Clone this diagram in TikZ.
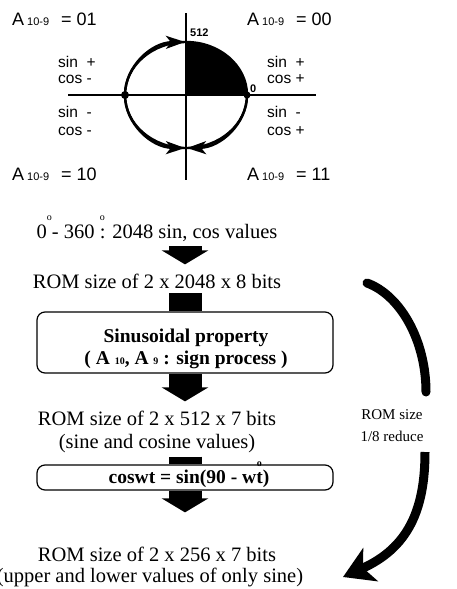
\documentclass[tikz,border=0pt]{standalone}
\usepackage{fontspec}
\setmainfont{Liberation Serif}
\newfontfamily\labelsans{Liberation Sans}
\usetikzlibrary{arrows.meta,positioning}
%% 小さな上付きの丸（度）と小さな添字
\newcommand{\degr}{\raisebox{0.85em}{\fontsize{10}{10}\selectfont o}}
\newcommand{\asub}[1]{{\fontsize{11}{11}\selectfont #1}}
\newcommand{\bsub}[1]{{\fontsize{10}{10}\selectfont #1}}

\begin{document}
\begin{tikzpicture}[x=1pt, y=-1pt,
  addr/.style={font=\labelsans\fontsize{18}{18}\selectfont, anchor=base west, inner sep=0pt},
  quad/.style={font=\labelsans\fontsize{15.5}{17}\selectfont, anchor=base west, inner sep=0pt},
  txtline/.style={font=\fontsize{20.5}{22}\selectfont, anchor=base, inner sep=0pt},
  boldline/.style={font=\bfseries\fontsize{19.5}{22}\selectfont, anchor=base, inner sep=0pt},
  procbox/.style={draw, line width=1.2pt, rounded corners=8pt, minimum width=296pt, inner sep=0pt},
  fatarrow/.style={line width=33pt, -{Triangle[length=14pt,width=46pt]}},
  stub/.style={line width=33pt}]
  \useasboundingbox (0,0) rectangle (456,589);

  %% --- 上：象限と符号 ---
  \coordinate (o) at (186,95);
  \draw[line width=1.6pt] (186,13) -- (186,180);
  \draw[line width=2pt] (68,95) -- (316,95);
  %% 第1象限（塗りつぶし）
  \fill (o) -- ++(61,0) arc[start angle=0, end angle=90, x radius=61pt, y radius=53pt] -- cycle;
  \draw[line width=2.4pt] (o) ellipse [x radius=61pt, y radius=53pt];
  %% 円周上の矢印
  \draw[line width=2.4pt, -{Stealth[length=19pt,width=13pt,inset=5pt]}]
    (o) ++(-61,0) arc[start angle=180, end angle=91, x radius=61pt, y radius=53pt];
  \draw[line width=2.4pt, -{Stealth[length=19pt,width=13pt,inset=5pt]}]
    (o) ++(-61,0) arc[start angle=180, end angle=269, x radius=61pt, y radius=53pt];
  \draw[line width=2.4pt, -{Stealth[length=19pt,width=13pt,inset=5pt]}]
    (o) ++(61,0) arc[start angle=0, end angle=-89, x radius=61pt, y radius=53pt];
  \fill (o) ++(-61,0) circle (4pt);
  \fill (o) ++(61,0) circle (3.5pt);
  \node[font=\labelsans\bfseries\fontsize{11}{11}\selectfont, anchor=base west, inner sep=0pt] (n512) at (190,36) {512};
  \node[font=\labelsans\bfseries\fontsize{11}{11}\selectfont, anchor=base west, inner sep=0pt] (n0) at (250,92) {0};

  \node[addr] (a01) at (12,25) {A\hspace{3pt}\asub{10-9}\hspace{12pt}=\hspace{5pt}01};
  \node[addr] (a00) at (247,25) {A\hspace{3pt}\asub{10-9}\hspace{12pt}=\hspace{5pt}00};
  \node[addr] (a10) at (12,180) {A\hspace{3pt}\asub{10-9}\hspace{12pt}=\hspace{5pt}10};
  \node[addr] (a11) at (247,180) {A\hspace{3pt}\asub{10-9}\hspace{12pt}=\hspace{5pt}11};

  \node[quad] (q2s) at (58,67) {sin\ \ +};
  \node[quad] (q2c) at (58,83) {cos -};
  \node[quad] (q3s) at (58,117) {sin\ \ -};
  \node[quad] (q3c) at (58,135) {cos -};
  \node[quad] (q1s) at (267,67) {sin\ \ +};
  \node[quad] (q1c) at (267,83) {cos +};
  \node[quad] (q4s) at (267,117) {sin\ \ -};
  \node[quad] (q4c) at (267,135) {cos +};

  %% --- 下：ROM サイズ削減の流れ ---
  \node[txtline] (deg) at (157,238) {0\rlap{\degr} - 360 \rlap{\degr}: 2048 sin, cos values};
  \node[txtline] (rom1) at (157,288) {ROM size of 2 x 2048 x 8 bits};
  \node[procbox, minimum height=61pt] (prop) at (185,342.5) {};
  \node[boldline] (prop1) at (186,342) {Sinusoidal property};
  \node[boldline] (prop2) at (186,364) {( A \bsub{10}, A \bsub{9} : sign process )};
  \node[txtline] (rom2) at (157,425) {ROM size of 2 x 512 x 7 bits};
  \node[txtline] (rom2b) at (157,448) {(sine and cosine values)};
  \node[procbox, minimum height=25pt] (sym) at (185,477.5) {};
  \node[boldline] (sym1) at (189,483) {coswt = sin(90 - wt\rlap{\kern-0.3em\degr})};
  \node[txtline] (rom3) at (157,561) {ROM size of 2 x 256 x 7 bits};
  \node[txtline] (rom3b) at (150,582) {(upper and lower values of only sine)};

  \draw[fatarrow, shorten <=5pt, shorten >=9pt] (deg.south -| prop.north) -- (rom1.north -| prop.north);
  \draw[stub, shorten <=5pt] (rom1.south -| prop.north) -- (prop.north);
  \draw[fatarrow, shorten >=9pt] (prop.south) -- (rom2.north -| prop.south);
  \draw[stub, shorten <=4pt] (rom2b.south -| sym.north) -- (sym.north);
  \draw[fatarrow, shorten >=34pt] (sym.south) -- (rom3.north -| sym.south);

  %% 右：ROM size 1/8 の曲がった矢印
  \coordinate (cstart) at (367,283);
  \coordinate (cmid) at (426,392);
  \coordinate (cresume) at (425,452);
  \coordinate (ctip) at (343,577);
  \node[txtline, font=\fontsize{15}{15}\selectfont] (rsz) at (392,419) {ROM size};
  \node[txtline, font=\fontsize{15}{15}\selectfont] (rred) at (392,441) {1/8 reduce};
  \draw[line width=9pt, line cap=round] (cstart) .. controls (400,295) and (426,340) .. (cmid);
  \draw[line width=9pt, -{Stealth[length=30pt,width=36pt,inset=8pt]}]
    (cresume) .. controls (425,510) and (408,548) .. (ctip);
\end{tikzpicture}
\end{document}
